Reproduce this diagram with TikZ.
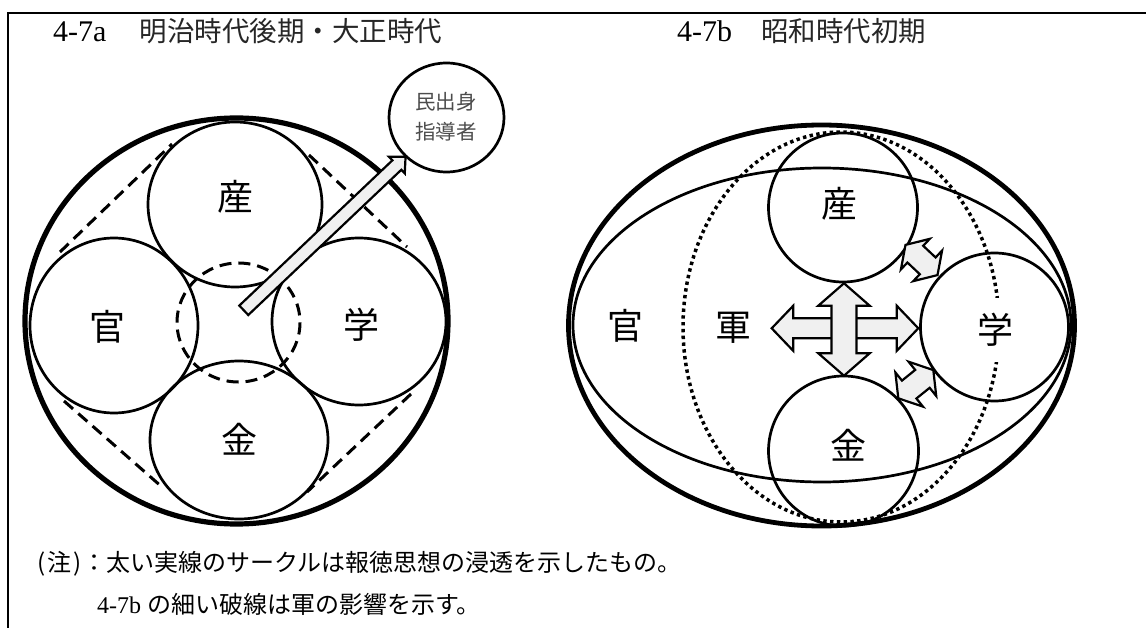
\documentclass[tikz,border=0pt]{standalone}
\usepackage{fontspec}
\newfontfamily\jp{Noto Sans CJK JP}
\newfontfamily\ser{Liberation Serif}
\definecolor{afill}{HTML}{F0F0F0}
\newcommand\dblarr[7]{%
  \begin{scope}[shift={(#1,#2)},rotate=#3]
    \draw[arrowbox] (-#4,0) -- (-#4+#5,#6) -- (-#4+#5,#7) -- (#4-#5,#7) -- (#4-#5,#6) -- (#4,0)
      -- (#4-#5,-#6) -- (#4-#5,-#7) -- (-#4+#5,-#7) -- (-#4+#5,-#6) -- cycle;
  \end{scope}}
\tikzset{
  arrowbox/.style={draw=black, fill=afill, line width=2.2pt, line join=miter},
  thickring/.style={draw=black, line width=5.2pt},
  thinring/.style={draw=black, line width=2.7pt},
  dashring/.style={draw=black, line width=3pt, dash pattern=on 12pt off 7pt},
  dotring/.style={draw=black, line width=3.5pt, dash pattern=on 3.4pt off 3.4pt},
  lab/.style={font=\jp\fontsize{36}{40}\selectfont, inner sep=0pt},
  title/.style={font=\fontsize{27.5}{30}\selectfont, inner sep=0pt, anchor=base west},
  notetext/.style={font=\fontsize{24}{26}\selectfont, inner sep=0pt, anchor=base west},
}
\begin{document}
\begin{tikzpicture}[x=1pt,y=-1pt]
\useasboundingbox (0,0) rectangle (1146,628);
\fill[white] (0,0) rectangle (1146,628);
% frame
\draw[line width=1.7pt] (8,628) -- (8,13) -- (1146,13);

% titles
\node[title] (ta) at (53,42) {{\ser\fontsize{30}{30}\selectfont 4-7a}\hspace{33pt}{\jp\color{black!85}明治時代後期・大正時代}};
\node[title] (tb) at (677,42) {{\ser\fontsize{30}{30}\selectfont 4-7b}\hspace{29pt}{\jp\color{black!85}昭和時代初期}};

% ---------- left diagram ----------
\draw[thickring] (236.5,321) ellipse [x radius=211.5, y radius=203];
\draw[thinring] (235,204.5) ellipse [x radius=87, y radius=82.5];
\draw[thinring] (114,325.5) ellipse [x radius=84, y radius=87.5];
\draw[thinring] (359,321.5) ellipse [x radius=87, y radius=83.5];
\draw[thinring] (239,440) ellipse [x radius=89, y radius=79];
\draw[dashring] (238.5,322.5) ellipse [x radius=61.5, y radius=59.5];
\coordinate (ul1) at (60,252);  \coordinate (ul2) at (172,144);
\coordinate (ur1) at (309,155); \coordinate (ur2) at (407,247);
\coordinate (ll1) at (64,401);  \coordinate (ll2) at (162,487);
\coordinate (lr1) at (411,394); \coordinate (lr2) at (307,492);
\draw[dashring] (ul1) -- (ul2);
\draw[dashring] (ur1) -- (ur2);
\draw[dashring] (ll1) -- (ll2);
\draw[dashring] (lr1) -- (lr2);
\draw[thinring] (446.5,117.5) ellipse [x radius=57.5, y radius=54.5];
\node[font=\jp\fontsize{20.5}{30}\selectfont, text=black!70, align=center, inner sep=0pt] (min) at (446,117) {民出身\\指導者};
\node[lab] (lsan) at (235,197) {産};
\node[lab] (lkan) at (107,327) {官};
\node[lab] (lgaku) at (361,325) {学};
\node[lab] (lkin) at (239,439) {金};
% arrow to leader
\begin{scope}[shift={(243.8,310.3)},rotate=43.5]
  \draw[arrowbox] (0,-6.5) -- (211,-6.5) -- (211,-11.5) -- (223,0) -- (211,11.5) -- (211,6.5) -- (0,6.5) -- cycle;
\end{scope}

% ---------- right diagram ----------
\draw[draw=black, line width=4.8pt] (821.5,325.5) ellipse [x radius=253, y radius=200.5];
\draw[thinring] (822,325) ellipse [x radius=249, y radius=157];
\draw[dotring] (841,327) ellipse [x radius=158, y radius=195];
\draw[thinring] (843,207.5) circle [radius=74.5];
\draw[thinring] (843.5,451) circle [radius=75];
\draw[thinring] (994.5,327) circle [radius=74];
\node[lab] (rsan) at (839,204) {産};
\node[lab] (rkan) at (625,326) {官};
\node[lab] (rgun) at (733,328) {軍};
\node[lab, fill=white, minimum height=64pt, minimum width=40pt] (rgaku) at (995,330) {学};
\node[lab] (rkin) at (848,445) {金};
% arrows
\dblarr{845}{328.3}{0}{73.3}{21.5}{22.5}{10}
\dblarr{844}{329.5}{90}{46.2}{22.5}{25.8}{12.5}
\dblarr{921.5}{260}{-43.3}{22}{13.5}{21}{11.5}
\dblarr{915.8}{384.2}{38.9}{22.5}{14}{22}{11.5}

% notes
\node[notetext] (n1) at (37,571) {\jp (\hspace{2pt}注\hspace{2pt})\hspace{1pt}：太い実線のサークルは報徳思想の浸透を示したもの。};
\node[notetext] (n2) at (97,613) {\ser 4-7b {\jp の細い破線は軍の影響を示す。}};
\end{tikzpicture}
\end{document}
